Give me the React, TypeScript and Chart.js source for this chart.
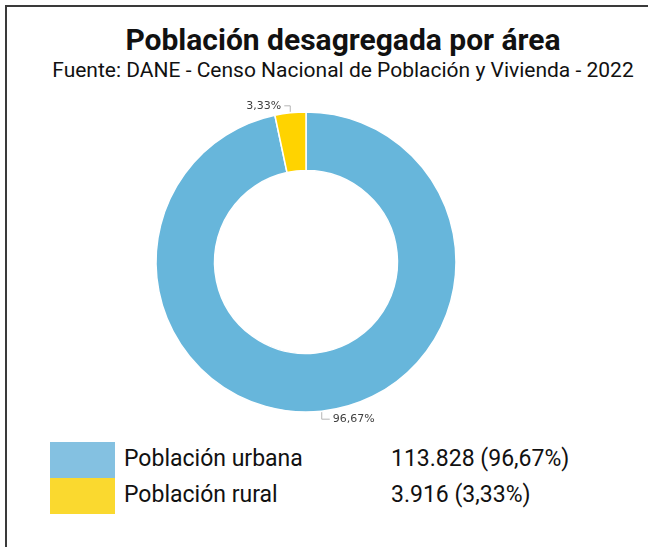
import React, { useEffect, useRef } from "react";
import { Chart, registerables } from "chart.js";

Chart.register(...registerables);

const titleText = "Población desagregada por área";
const subtitleText = "Fuente: DANE - Censo Nacional de Población y Vivienda - 2022";
const categories = ["Población urbana", "Población rural"];
const values = [113828, 3916];
const valueLabels = ["113.828", "3.916"];
const percentLabels = ["96,67%", "3,33%"];
const sliceColors = ["#67b6db", "#ffd300"];
const legendColors = ["#84c1e1", "#fad92f"];

const outerLabels = {
  id: "outerLabels",
  afterDatasetsDraw(chart: any) {
    const meta = chart.getDatasetMeta(0);
    const ctx = chart.ctx as CanvasRenderingContext2D;
    ctx.save();
    meta.data.forEach((arc: any, i: number) => {
      const { x, y, startAngle, endAngle, outerRadius } = arc.getProps(
        ["x", "y", "startAngle", "endAngle", "outerRadius"],
        true
      );
      const mid = (startAngle + endAngle) / 2;
      const px = x + Math.cos(mid) * (outerRadius + 1);
      const py = y + Math.sin(mid) * (outerRadius + 1);
      const up = py < y;
      const right = px > x;
      const vy = py + (up ? -6 : 7);
      const hx = px + (right ? 8 : -6);
      ctx.strokeStyle = "#b5b5b5";
      ctx.lineWidth = 1;
      ctx.beginPath();
      ctx.moveTo(px, py);
      ctx.lineTo(px, vy);
      ctx.lineTo(hx, vy);
      ctx.stroke();
      ctx.fillStyle = "#3f3f3f";
      ctx.font = "11px 'DejaVu Sans'";
      ctx.textBaseline = "middle";
      ctx.textAlign = right ? "left" : "right";
      ctx.fillText(percentLabels[i], hx + (right ? 3 : -3), vy);
    });
    ctx.restore();
  },
};

function DoughnutChart() {
  const ref = useRef<HTMLCanvasElement | null>(null);
  useEffect(() => {
    if (!ref.current) return;
    const chart = new Chart(ref.current, {
      type: "doughnut",
      data: {
        labels: categories,
        datasets: [
          {
            data: values,
            backgroundColor: sliceColors,
            borderColor: "#ffffff",
            borderWidth: 1.5,
            hoverOffset: 0,
          },
        ],
      },
      options: {
        animation: false,
        responsive: false,
        radius: 150,
        cutout: "61%",
        layout: { padding: { left: 0, right: 36, top: 0, bottom: 6 } },
        plugins: {
          legend: { display: false },
          tooltip: { enabled: false },
          title: { display: false },
        },
      } as any,
      plugins: [outerLabels],
    });
    return () => chart.destroy();
  }, []);
  return <canvas ref={ref} width={648} height={330} style={{ display: "block" }} />;
}

export default function App() {
  return (
    <div
      style={{
        position: "fixed",
        left: 0,
        top: 0,
        width: 648,
        height: 547,
        background: "#fff",
        overflow: "hidden",
        fontFamily: "Roboto, sans-serif",
        color: "#111",
      }}
    >
      <div
        style={{
          position: "absolute",
          left: 5,
          top: 5,
          width: 720,
          height: 620,
          borderLeft: "2px solid #3a3a3a",
          borderTop: "2px solid #3a3a3a",
        }}
      />
      <div
        style={{
          position: "absolute",
          left: 5,
          top: 25,
          width: 676,
          textAlign: "center",
          fontSize: 30,
          lineHeight: "30px",
          fontWeight: 700,
          whiteSpace: "nowrap",
        }}
      >
        {titleText}
      </div>
      <div
        style={{
          position: "absolute",
          left: 5,
          top: 60,
          width: 676,
          textAlign: "center",
          fontSize: 21,
          lineHeight: "21px",
          whiteSpace: "nowrap",
        }}
      >
        {subtitleText}
      </div>
      <div style={{ position: "absolute", left: 0, top: 100 }}>
        <DoughnutChart />
      </div>
      {categories.map((c, i) => (
        <React.Fragment key={c}>
          <div
            style={{
              position: "absolute",
              left: 50,
              top: 442 + i * 36,
              width: 65,
              height: 36,
              background: legendColors[i],
            }}
          />
          <div
            style={{
              position: "absolute",
              left: 124,
              top: 447 + i * 36,
              fontSize: 23,
              lineHeight: "23px",
              whiteSpace: "nowrap",
            }}
          >
            {c}
          </div>
          <div
            style={{
              position: "absolute",
              left: 391,
              top: 447 + i * 36,
              fontSize: 23,
              lineHeight: "23px",
              whiteSpace: "nowrap",
            }}
          >
            {`${valueLabels[i]} (${percentLabels[i]})`}
          </div>
        </React.Fragment>
      ))}
    </div>
  );
}
